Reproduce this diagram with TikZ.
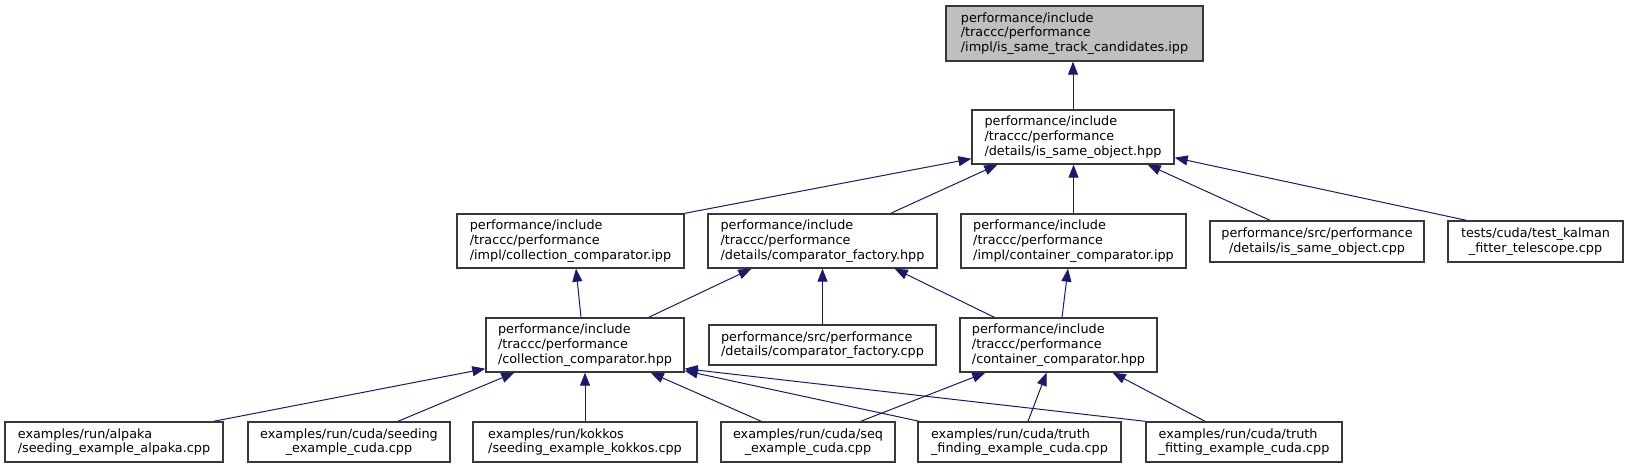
\documentclass[tikz,border=0pt]{standalone}
\usepackage{fontspec}
\setmainfont{DejaVu Sans}
\usetikzlibrary{arrows.meta}
\definecolor{edgeblue}{HTML}{191970}
\definecolor{boxline}{HTML}{383838}
\definecolor{topfill}{HTML}{BFBFBF}
\begin{document}
\begin{tikzpicture}[x=1pt,y=-1pt,
  box/.style={draw=boxline, line width=1.4pt, fill=white, inner sep=0pt,
    font=\fontsize{12.8}{14.7}\selectfont, align=left},
  cbox/.style={box, align=center},
  edge/.style={draw=edgeblue, line width=1pt, -{Triangle[length=13pt,width=10pt]}}
]
\useasboundingbox (0,0) rectangle (1629,468);
% row 1
\node[box, fill=topfill, minimum width=257pt, minimum height=55pt] (A) at (1074.5,33.5)
  {performance/include\\/traccc/performance\\/impl/is\_same\_track\_candidates.ipp};
% row 2
\node[box, minimum width=202pt, minimum height=54pt] (B) at (1073,137)
  {performance/include\\/traccc/performance\\/details/is\_same\_object.hpp};
% row 3
\node[box, minimum width=227pt, minimum height=54pt] (C) at (570.5,241)
  {performance/include\\/traccc/performance\\/impl/collection\_comparator.ipp};
\node[box, minimum width=229pt, minimum height=54pt] (D) at (822.5,241)
  {performance/include\\/traccc/performance\\/details/comparator\_factory.hpp};
\node[box, minimum width=225pt, minimum height=54pt] (E) at (1073.5,241)
  {performance/include\\/traccc/performance\\/impl/container\_comparator.ipp};
\node[cbox, minimum width=214pt, minimum height=41pt] (F) at (1317,241.5)
  {performance/src/performance\\/details/is\_same\_object.cpp};
\node[cbox, minimum width=175pt, minimum height=41pt] (G) at (1535.5,241.5)
  {tests/cuda/test\_kalman\\\_fitter\_telescope.cpp};
% row 4
\node[box, minimum width=198pt, minimum height=54pt] (H) at (585,345)
  {performance/include\\/traccc/performance\\/collection\_comparator.hpp};
\node[box, minimum width=227pt, minimum height=40pt] (I) at (822.5,345)
  {performance/src/performance\\/details/comparator\_factory.cpp};
\node[box, minimum width=197pt, minimum height=54pt] (P) at (1058.5,345)
  {performance/include\\/traccc/performance\\/container\_comparator.hpp};
% row 5
\node[box, minimum width=218pt, minimum height=40pt] (J) at (114,442)
  {examples/run/alpaka\\/seeding\_example\_alpaka.cpp};
\node[cbox, minimum width=202pt, minimum height=40pt] (K) at (349,442)
  {examples/run/cuda/seeding\\\_example\_cuda.cpp};
\node[box, minimum width=224pt, minimum height=40pt] (L) at (585,442)
  {examples/run/kokkos\\/seeding\_example\_kokkos.cpp};
\node[cbox, minimum width=174pt, minimum height=40pt] (M) at (808,442)
  {examples/run/cuda/seq\\\_example\_cuda.cpp};
\node[box, minimum width=203pt, minimum height=40pt] (N) at (1019.5,442)
  {examples/run/cuda/truth\\\_finding\_example\_cuda.cpp};
\node[box, minimum width=196pt, minimum height=40pt] (O) at (1244,442)
  {examples/run/cuda/truth\\\_fitting\_example\_cuda.cpp};
% edges
\draw[edge] (B.north) -- (B.north |- A.south);
\draw[edge] (C.north east) -- ([yshift=6pt]B.south west);
\draw[edge] ([xshift=-47pt]D.north east) -- ([xshift=26pt]B.south west);
\draw[edge] (E.north) -- (E.north |- B.south);
\draw[edge] ([xshift=-47pt]F.north) -- ([xshift=-27pt]B.south east);
\draw[edge] ([xshift=19pt]G.north west) -- ([yshift=7pt]B.south east);
\draw[edge] ([xshift=-4pt]H.north) -- ([xshift=5.5pt]C.south);
\draw[edge] ([xshift=-36pt]H.north east) -- ([xshift=44pt]D.south west);
\draw[edge] (I.north) -- (I.north |- D.south);
\draw[edge] ([xshift=35pt]P.north west) -- ([xshift=-43pt]D.south east);
\draw[edge] ([xshift=3.5pt]P.north) -- ([xshift=-5.5pt]E.south);
\draw[edge] ([xshift=-10pt]J.north east) -- ([yshift=4pt]H.south west);
\draw[edge] ([xshift=49pt]K.north) -- ([xshift=29pt]H.south west);
\draw[edge] (L.north) -- (L.north |- H.south);
\draw[edge] ([xshift=41pt]M.north west) -- ([xshift=-34pt]H.south east);
\draw[edge] ([xshift=2pt]N.north west) -- ([yshift=2pt]H.south east);
\draw[edge] (O.north west) -- ([yshift=4pt]H.south east);
\draw[edge] ([xshift=-35pt]M.north east) -- ([xshift=26pt]P.south west);
\draw[edge] ([xshift=8.5pt]N.north) -- ([xshift=-12pt]P.south);
\draw[edge] ([xshift=-39pt]O.north) -- ([xshift=-45pt]P.south east);
\end{tikzpicture}
\end{document}
